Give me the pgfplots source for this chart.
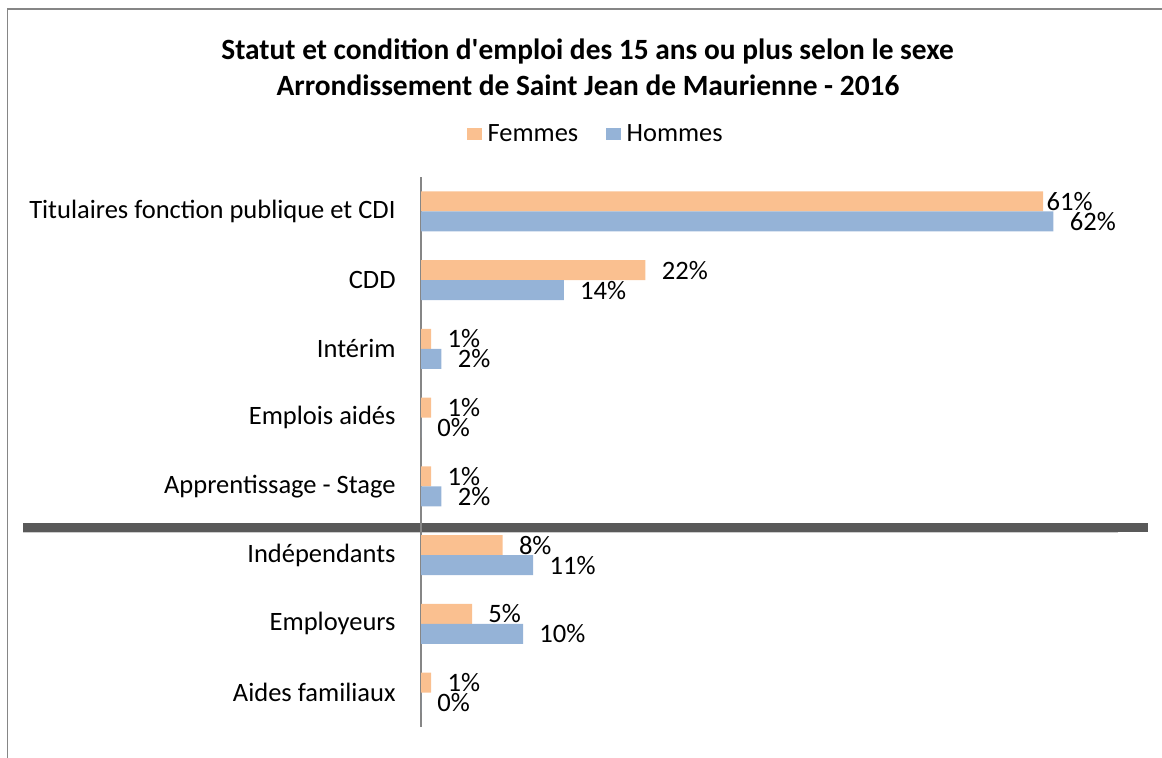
\documentclass[border=0pt]{standalone}
\usepackage{fontspec}
\setmainfont{Carlito}
\usepackage{pgfplots}
\pgfplotsset{compat=1.18}
\usepackage{pgfplotstable}

\definecolor{femmes}{HTML}{FAC090}
\definecolor{hommes}{HTML}{95B3D7}
\definecolor{axegris}{HTML}{868686}
\definecolor{sepgris}{HTML}{595959}

% y : rang de la catégorie (7 = en haut), val : part en %, sh : décalage de l'étiquette (pt)
\pgfplotstableread{
y val sh
7 61 1.5
6 22 8
5 1  8
4 1  8
3 1  8
2 8  8
1 5  8
0 1  8
}\femmes

\pgfplotstableread{
y val sh
7 62 8
6 14 8
5 2  8
4 0  8
3 2  8
2 11 8
1 10 8
0 0  8
}\hommes

\begin{document}
\begin{tikzpicture}
\useasboundingbox (0,0) rectangle (581pt,379pt);
% cadre du graphique
\draw[axegris, line width=0.6pt] (3.85pt,0pt) -- (3.85pt,374.5pt) -- (581pt,374.5pt);
% titre
\node[anchor=base, font=\fontsize{14.7}{17}\selectfont\bfseries]
  at (293.75pt,349pt) {Statut et condition d\textquotesingle emploi des 15 ans ou plus selon le sexe};
\node[anchor=base, font=\fontsize{14.7}{17}\selectfont\bfseries]
  at (294pt,331.3pt) {Arrondissement de Saint Jean de Maurienne - 2016};
% séparateur salariés / non-salariés
\fill[sepgris] (11.5pt,113pt) rectangle (574pt,117.5pt);
\draw[black!20, line width=0.5pt] (11.5pt,112.6pt) -- (559pt,112.6pt);

\begin{axis}[
    at={(210.5pt,15.5pt)}, anchor=south west,
    scale only axis,
    width=357pt, height=275pt,
    xbar, bar width=10pt,
    xmin=0, xmax=70,
    ymin=-0.5, ymax=7.5,
    axis x line=none,
    axis y line*=left,
    y axis line style={draw=axegris, line width=1pt, -},
    ytick={0,...,7},
    yticklabels={Aides familiaux, Employeurs, Indépendants, Apprentissage - Stage,
                 Emplois aidés, Intérim, CDD, Titulaires fonction publique et CDI},
    major tick length=0pt,
    yticklabel style={font=\fontsize{13.25}{15}\selectfont, inner sep=0pt, xshift=-12.5pt},
    /pgf/number format/assume math mode=true,
    nodes near coords={\pgfmathprintnumber[fixed,precision=0]{\pgfplotspointmeta}\%},
    point meta=x,
    every node near coord/.append style={font=\fontsize{13.3}{15}\selectfont,
        inner sep=0pt, anchor=west, xshift=\lsh pt},
    visualization depends on={\thisrow{sh} \as \lsh},
    legend columns=2,
    legend style={draw=none, at={(0.2465,1.078)}, anchor=center,
        font=\fontsize{13.2}{15}\selectfont,
        /tikz/every odd column/.append style={column sep=1pt},
        /tikz/every even column/.append style={column sep=12pt}},
    legend image code/.code={\fill[#1,draw=none] (0pt,-3.2pt) rectangle (7.2pt,3.2pt);},
    clip=false,
]
\addplot[fill=femmes, draw=none, bar shift=5pt] table[x=val, y=y] {\femmes};
\addplot[fill=hommes, draw=none, bar shift=-5pt] table[x=val, y=y] {\hommes};
\legend{Femmes, Hommes}
\end{axis}
\end{tikzpicture}
\end{document}
